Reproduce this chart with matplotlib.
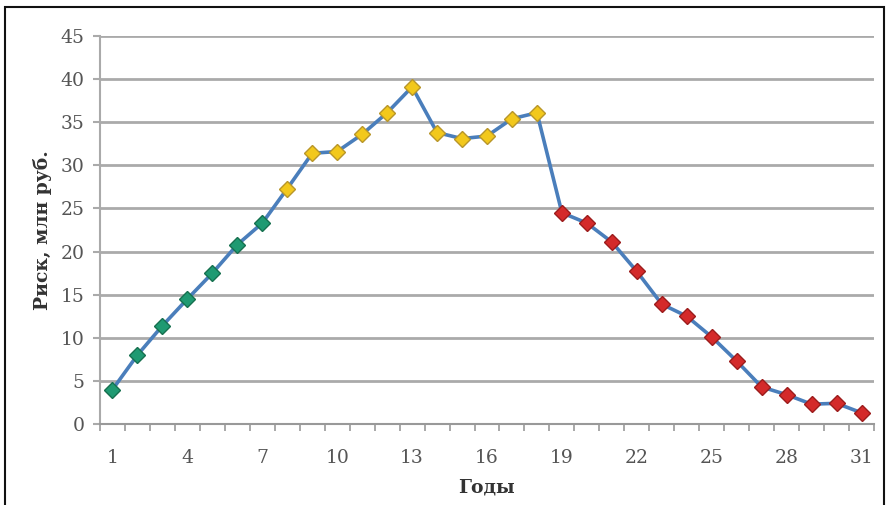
import numpy as np
import matplotlib.pyplot as plt
from matplotlib.patches import Rectangle

years = list(range(1, 32))
risk = [4.0, 8.0, 11.4, 14.5, 17.5, 20.8, 23.3, 27.3, 31.4, 31.6, 33.6, 36.1, 39.1,
        33.8, 33.1, 33.4, 35.4, 36.1, 24.5, 23.3, 21.1, 17.7, 13.9, 12.5, 10.1, 7.3,
        4.3, 3.4, 2.3, 2.4, 1.3]
# marker colour groups: green 1-7, yellow 8-18, red 19-31
groups = [(1, 7, '#1f9a72', '#16704f'),
          (8, 18, '#f2c81c', '#b8962a'),
          (19, 31, '#d42a2a', '#9c1c1c')]
xtick_labels = [1, 4, 7, 10, 13, 16, 19, 22, 25, 28, 31]

plt.rcParams['font.family'] = ['DejaVu Serif']

fig = plt.figure(figsize=(8.9, 5.05), dpi=100)
ax = fig.add_axes([100 / 890, 1 - 424 / 505, 774 / 890, 388 / 505])

ax.plot(years, risk, color='#4a7ebb', lw=2.6, zorder=3)
for lo, hi, fc, ec in groups:
    xs = years[lo - 1:hi]
    ys = risk[lo - 1:hi]
    ax.plot(xs, ys, ls='none', marker='D', ms=8, mfc=fc, mec=ec, mew=1, zorder=4)

ax.set_xlim(0.5, 31.5)
ax.set_ylim(0, 45)
ax.set_yticks(range(0, 46, 5))
ax.set_xticks(xtick_labels)
ax.set_xticks(np.arange(0.5, 32, 1), minor=True)
ax.tick_params(axis='x', which='major', length=0, pad=18, labelsize=13.5, labelcolor='#555555')
ax.tick_params(axis='x', which='minor', length=5, width=1.2, color='#999999', direction='out')
ax.tick_params(axis='y', length=5, width=1.5, color='#aaaaaa', labelsize=13.5, labelcolor='#555555', pad=6)

ax.grid(axis='y', color='#aaaaaa', lw=2)
for s in ['top', 'right']:
    ax.spines[s].set_visible(False)
ax.spines['left'].set_color('#aaaaaa')
ax.spines['left'].set_linewidth(1.5)
ax.spines['bottom'].set_color('#999999')
ax.spines['bottom'].set_linewidth(1.5)
ax.set_axisbelow(True)

ax.set_xlabel('Годы', fontsize=13.5, fontweight='bold', color='#333333', labelpad=8)
ax.set_ylabel('Риск, млн руб.', fontsize=13.5, fontweight='bold', color='#333333', labelpad=6)

fig.patches.append(Rectangle((5 / 890, -0.05), 879 / 890, 1.05 - 7 / 505, transform=fig.transFigure,
                             fill=False, ec='#111111', lw=1.5))

fig.savefig('out.png', dpi=100)
